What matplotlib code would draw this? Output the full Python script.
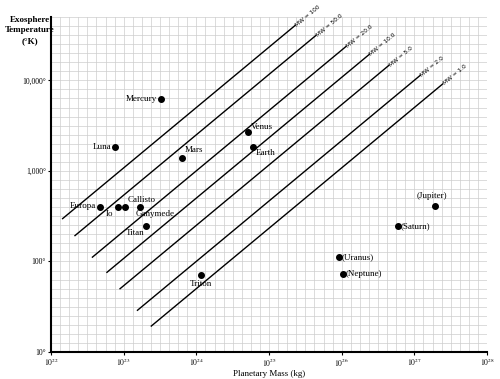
import numpy as np
import matplotlib
matplotlib.use("Agg")
import matplotlib.pyplot as plt

plt.rcParams['font.family'] = ['Liberation Serif', 'DejaVu Serif']
plt.rcParams['mathtext.fontset'] = 'stix'

# bodies: mass (kg), exosphere temperature (K)
nombres = ["Mercury", "Luna", "Mars", "Venus", "Earth", "Europa", "Io", "Callisto",
           "Ganymede", "Titan", "Triton", "(Jupiter)", "(Saturn)", "(Uranus)", "(Neptune)"]
masa = [3.3e23, 7.7e22, 6.4e23, 5.1e24, 6.0e24, 4.7e22, 8.3e22, 1.03e23,
        1.66e23, 2.0e23, 1.15e24, 1.9e27, 5.9e26, 9.1e25, 1.05e26]
temp = [6200, 1860, 1400, 2660, 1860, 400, 400, 400,
        400, 245, 70, 414, 248, 112, 73]
# label offset (points) and alignment
offs = [(-3, 0, 'right', 'center'), (-3, 0, 'right', 'center'), (2, 3, 'left', 'bottom'),
        (2, 1, 'left', 'bottom'), (2, -2, 'left', 'top'), (-3, 1, 'right', 'center'),
        (-3, -2, 'right', 'top'), (2, 2, 'left', 'bottom'), (-3, -2, 'left', 'top'),
        (-1, -2, 'right', 'top'), (0, -3, 'center', 'top'), (-2, 4, 'center', 'bottom'),
        (2, 0, 'left', 'center'), (2, 0, 'left', 'center'), (2, 0, 'left', 'center')]

# molecular weight lines: T = MW * 10**-14.3 * M**(2/3)
mw = [100, 50, 20, 10, 5, 2, 1]
mw_txt = ["MW = 100", "MW = 50.0", "MW = 20.0", "MW = 10.0", "MW = 5.0", "MW = 2.0", "MW = 1.0"]
logm_ini = [22.16, 22.33, 22.57, 22.77, 22.95, 23.19, 23.38]
logm_fin = [25.36, 25.645, 26.06, 26.38, 26.65, 27.08, 27.39]

fig = plt.figure(figsize=(5, 3.79), dpi=100)
ax = fig.add_axes([0.102, 0.0712, 0.872, 0.884])
ax.set_xscale('log')
ax.set_yscale('log')
ax.set_xlim(1e22, 1e28)
ax.set_ylim(10, 10**4.7)

# graph paper grid
for k in range(49):
	ax.axvline(10**(22 + k/8), color='#cdcdcd', lw=0.5, zorder=0)
for k in range(38):
	ax.axhline(10**(1 + k/10), color='#cdcdcd', lw=0.5, zorder=0)

ang = np.degrees(np.arctan((2/3) * (0.884*379/np.log10(10**4.7/10)) / (0.872*500/6)))
for w, t, a, b in zip(mw, mw_txt, logm_ini, logm_fin):
	m = np.logspace(a, b, 50)
	ax.plot(m, w * 10**-14.3 * m**(2/3), color='black', lw=1.0, zorder=2)
	mf = 10**b
	ax.annotate(t, (mf, w * 10**-14.3 * mf**(2/3)), xytext=(0.8, 0), textcoords='offset points',
		rotation=ang, rotation_mode='anchor', ha='left', va='center', fontsize=4.2,
		family='DejaVu Sans', zorder=3)

ax.plot(masa, temp, 'o', color='black', ms=4, zorder=4)
for n, m, t, o in zip(nombres, masa, temp, offs):
	ax.annotate(n, (m, t), xytext=(o[0], o[1]), textcoords='offset points',
		ha=o[2], va=o[3], fontsize=6.5, zorder=5)

ax.set_xticks([10.0**k for k in range(22, 29)])
ax.set_xticklabels(["$10^{%d}$" % k for k in range(22, 29)])
ax.set_yticks([10, 100, 1000, 10000])
ax.set_yticklabels(["10°", "100°", "1,000°", "10,000°"])
ax.minorticks_off()
ax.tick_params(labelsize=5.5, length=2.5, width=0.8, pad=1)

for s in ['top', 'right']:
	ax.spines[s].set_visible(False)
for s in ['left', 'bottom']:
	ax.spines[s].set_linewidth(1.5)

ax.set_xlabel("Planetary Mass (kg)", fontsize=6.5, labelpad=1)
fig.text(0.06, 0.958, "Exosphere\nTemperature\n(°K)", ha='center', va='top',
	fontsize=6.5, fontweight='bold', linespacing=1.4)

fig.savefig("out.png", dpi=100)
